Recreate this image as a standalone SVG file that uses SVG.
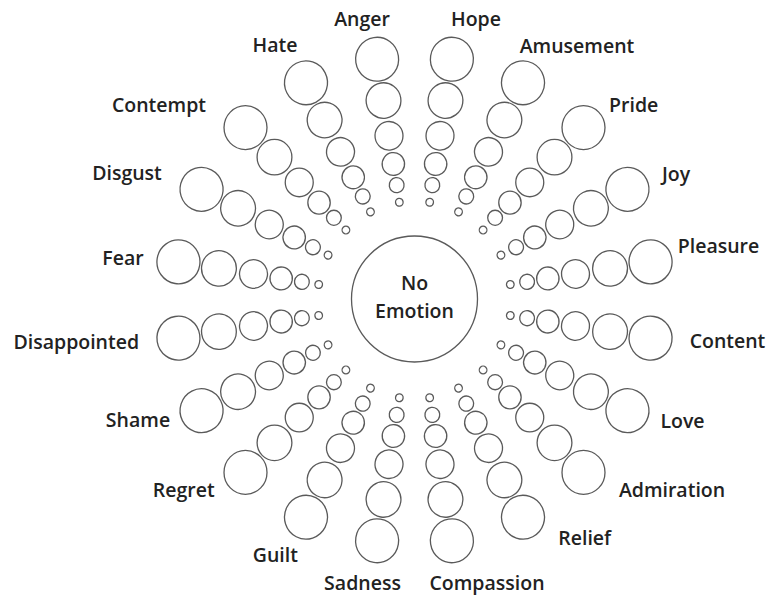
<svg xmlns="http://www.w3.org/2000/svg" width="767" height="596" viewBox="0 0 767 596">
<style>
  circle { fill: none; stroke: #5a5a5a; stroke-width: 1.3; }
  text { font-family: "Open Sans", "Noto Sans", "Liberation Sans", sans-serif; font-size: 19.5px; font-weight: 600; fill: #222222; text-anchor: middle; }
</style>
<rect width="767" height="596" fill="#ffffff"/>
<defs>
  <g id="spoke">
    <circle cx="97" cy="0" r="3.8"/>
    <circle cx="114" cy="0" r="7.4"/>
    <circle cx="135" cy="0" r="11.2"/>
    <circle cx="163" cy="0" r="14"/>
    <circle cx="198" cy="0" r="17.4"/>
    <circle cx="239" cy="0" r="21.5"/>
  </g>
</defs>
<g id="connectors"></g>
<g id="no-emotion">
  <circle cx="414.5" cy="299" r="63"/>
  <text x="414.5" y="290">No</text>
  <text x="414.5" y="318">Emotion</text>
</g>
<g id="hope"><use href="#spoke" transform="translate(414.5 300) scale(1 1.02) rotate(-81)"/><text x="476" y="26">Hope</text></g>
<g id="amusement"><use href="#spoke" transform="translate(414.5 300) scale(1 1.02) rotate(-63)"/><text x="577" y="52.5">Amusement</text></g>
<g id="pride"><use href="#spoke" transform="translate(414.5 300) scale(1 1.02) rotate(-45)"/><text x="633.7" y="111.7">Pride</text></g>
<g id="joy"><use href="#spoke" transform="translate(414.5 300) scale(1 1.02) rotate(-27)"/><text x="676" y="181">Joy</text></g>
<g id="pleasure"><use href="#spoke" transform="translate(414.5 300) scale(1 1.02) rotate(-9)"/><text x="718.5" y="252.7">Pleasure</text></g>
<g id="content"><use href="#spoke" transform="translate(414.5 300) scale(1 1.02) rotate(9)"/><text x="727.5" y="348.3">Content</text></g>
<g id="love"><use href="#spoke" transform="translate(414.5 300) scale(1 1.02) rotate(27)"/><text x="682.5" y="427.7">Love</text></g>
<g id="admiration"><use href="#spoke" transform="translate(414.5 300) scale(1 1.02) rotate(45)"/><text x="672" y="496.7">Admiration</text></g>
<g id="relief"><use href="#spoke" transform="translate(414.5 300) scale(1 1.02) rotate(63)"/><text x="584.7" y="545">Relief</text></g>
<g id="compassion"><use href="#spoke" transform="translate(414.5 300) scale(1 1.02) rotate(81)"/><text x="487" y="590">Compassion</text></g>
<g id="sadness"><use href="#spoke" transform="translate(414.5 300) scale(1 1.02) rotate(99)"/><text x="362.5" y="590">Sadness</text></g>
<g id="guilt"><use href="#spoke" transform="translate(414.5 300) scale(1 1.02) rotate(117)"/><text x="275.3" y="561.7">Guilt</text></g>
<g id="regret"><use href="#spoke" transform="translate(414.5 300) scale(1 1.02) rotate(135)"/><text x="183.7" y="496.7">Regret</text></g>
<g id="shame"><use href="#spoke" transform="translate(414.5 300) scale(1 1.02) rotate(153)"/><text x="138" y="427.3">Shame</text></g>
<g id="disappointed"><use href="#spoke" transform="translate(414.5 300) scale(1 1.02) rotate(171)"/><text x="76.3" y="349">Disappointed</text></g>
<g id="fear"><use href="#spoke" transform="translate(414.5 300) scale(1 1.02) rotate(189)"/><text x="123" y="265">Fear</text></g>
<g id="disgust"><use href="#spoke" transform="translate(414.5 300) scale(1 1.02) rotate(207)"/><text x="127" y="180">Disgust</text></g>
<g id="contempt"><use href="#spoke" transform="translate(414.5 300) scale(1 1.02) rotate(225)"/><text x="159" y="111.7">Contempt</text></g>
<g id="hate"><use href="#spoke" transform="translate(414.5 300) scale(1 1.02) rotate(243)"/><text x="275" y="52.3">Hate</text></g>
<g id="anger"><use href="#spoke" transform="translate(414.5 300) scale(1 1.02) rotate(261)"/><text x="362" y="26">Anger</text></g>
</svg>
